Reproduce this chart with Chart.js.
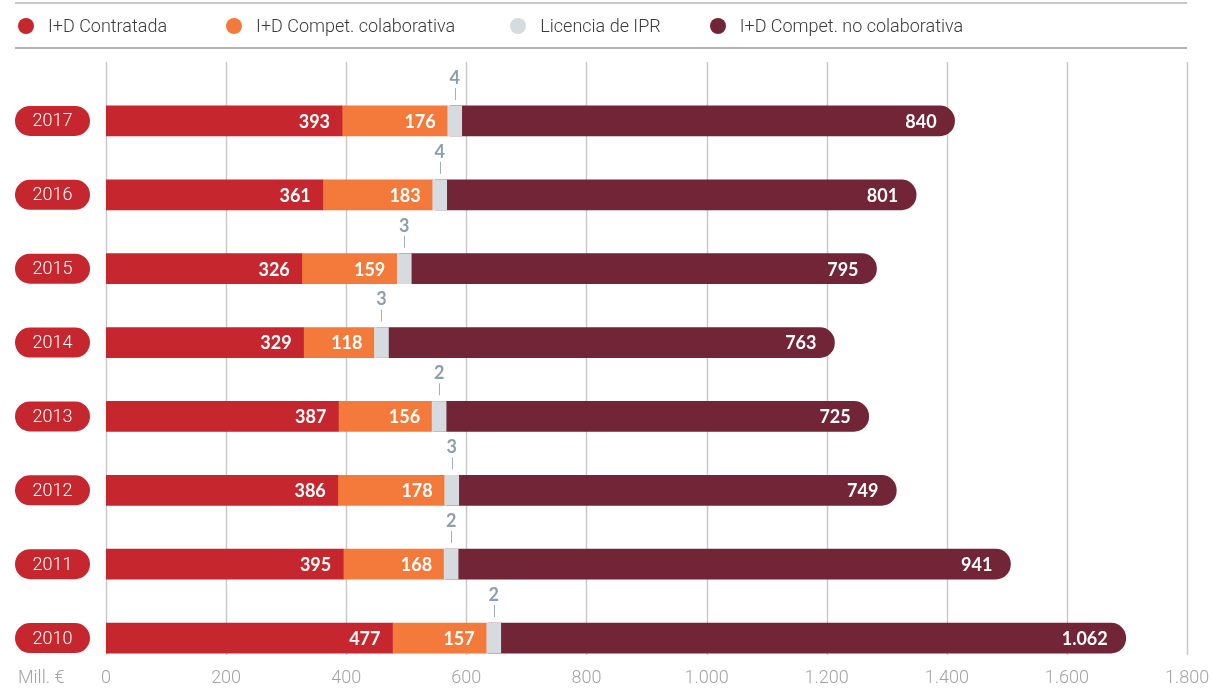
<!DOCTYPE html>
<html>
<head>
<meta charset="utf-8">
<script src="https://cdn.jsdelivr.net/npm/chart.js@4/dist/chart.umd.min.js"></script>
<style>
    body { margin: 0; background: #fff; }
    #wrap { position: relative; width: 1212px; height: 693px; }
    #grafico { position: absolute; left: 0; top: 0; }
    #leyenda {
        position: absolute; left: 15px; top: 2px; width: 1172px; height: 43px;
        border-top: 2px solid #c8c8c8; border-bottom: 2px solid #b4b4b4;
        display: flex; align-items: center;
        font-family: 'Roboto', sans-serif; font-weight: 300; font-size: 18px; color: #3a3a3a;
    }
    #leyenda span.item { display: flex; align-items: center; }
    #leyenda i { display: inline-block; width: 16px; height: 16px; border-radius: 50%; margin: 0 14px 0 3px; }
</style>
</head>
<body>
<div id="wrap">
    <canvas id="grafico" width="1212" height="693"></canvas>
    <div id="leyenda"></div>
</div>
<script>
// Datos (millones de euros)
const anios = ['2017', '2016', '2015', '2014', '2013', '2012', '2011', '2010'];
const contratada = [393, 361, 326, 329, 387, 386, 395, 477];
const colaborativa = [176, 183, 159, 118, 156, 178, 168, 157];
const licenciaIPR = [4, 4, 3, 3, 2, 3, 2, 2];
const noColaborativa = [840, 801, 795, 763, 725, 749, 941, 1062];
const ticksX = [0, 200, 400, 600, 800, 1000, 1200, 1400, 1600, 1800];

const series = ['I+D Contratada', 'I+D Compet. colaborativa', 'Licencia de IPR', 'I+D Compet. no colaborativa'];
const colores = ['#c6262d', '#f37a3a', '#d5dbde', '#722537'];

const fuenteFina = "300 18px 'Roboto', sans-serif";
const fuenteNum = "bold 18px 'Lato', 'Open Sans', sans-serif";

// Formato con punto de miles
function formato(n) {
    return String(n).replace(/\B(?=(\d{3})+(?!\d))/g, '.');
}

// Licencia IPR como barra flotante encima (para que se vea aunque sea pequeña)
const iprFlotante = licenciaIPR.map((v, i) => {
    const ini = contratada[i] + colaborativa[i];
    return [ini, ini + v];
});

// Leyenda en HTML
const leyenda = document.getElementById('leyenda');
series.forEach((s, i) => {
    const item = document.createElement('span');
    item.className = 'item';
    item.style.marginRight = ['56px', '52px', '46px', '0'][i];
    item.innerHTML = `<i style="background:${colores[i]}"></i>${s}`;
    leyenda.appendChild(item);
});

// Plugin: rejilla, etiquetas de años y eje
const decoracion = {
    id: 'decoracion',
    beforeDatasetsDraw(chart) {
        const ctx = chart.ctx;
        const xs = chart.scales.x;
        const ys = chart.scales.y;
        const area = chart.chartArea;
        ctx.save();
        // rejilla vertical
        ctx.strokeStyle = '#c9c9c9';
        ctx.lineWidth = 1.5;
        ticksX.forEach(t => {
            const x = Math.round(xs.getPixelForValue(t)) + 0.5;
            ctx.beginPath();
            ctx.moveTo(x, area.top - 22);
            ctx.lineTo(x, area.bottom - 20);
            ctx.stroke();
        });
        // etiquetas del eje x
        ctx.fillStyle = '#a3a3a3';
        ctx.font = fuenteFina;
        ctx.textAlign = 'center';
        ctx.textBaseline = 'middle';
        ticksX.forEach(t => {
            ctx.fillText(formato(t), xs.getPixelForValue(t), area.bottom + 3);
        });
        ctx.textAlign = 'left';
        ctx.fillText('Mill. €', 18, area.bottom + 3);
        // pastillas de años
        anios.forEach((a, i) => {
            const y = ys.getPixelForValue(i);
            ctx.fillStyle = colores[0];
            ctx.beginPath();
            ctx.roundRect(15, y - 15, 75, 30, 15);
            ctx.fill();
            ctx.fillStyle = '#fff';
            ctx.textAlign = 'center';
            ctx.font = fuenteFina;
            ctx.fillText(a, 52.5, y + 1);
        });
        ctx.restore();
    },
    afterDatasetsDraw(chart) {
        const ctx = chart.ctx;
        ctx.save();
        ctx.font = fuenteNum;
        ctx.textBaseline = 'middle';
        [1, 2, 4].forEach(d => {
            const meta = chart.getDatasetMeta(d);
            const valores = chart.data.datasets[d].data;
            meta.data.forEach((bar, i) => {
                ctx.fillStyle = '#fff';
                ctx.textAlign = 'right';
                ctx.fillText(formato(valores[i]), bar.x - (d === 4 ? 18 : 12), bar.y + 1);
            });
        });
        // etiquetas de licencia IPR sobre la barra
        const meta = chart.getDatasetMeta(0);
        meta.data.forEach((bar, i) => {
            const cx = (bar.x + bar.base) / 2;
            ctx.strokeStyle = '#9fb0bb';
            ctx.lineWidth = 1;
            ctx.beginPath();
            ctx.moveTo(Math.round(cx) + 0.5, bar.y - 33);
            ctx.lineTo(Math.round(cx) + 0.5, bar.y - 21);
            ctx.stroke();
            ctx.fillStyle = '#8c9fab';
            ctx.textAlign = 'center';
            ctx.fillText(licenciaIPR[i], cx, bar.y - 43);
        });
        ctx.restore();
    }
};

new Chart(document.getElementById('grafico'), {
    type: 'bar',
    data: {
        labels: anios,
        datasets: [
            { label: series[2] + ' (visible)', data: iprFlotante, backgroundColor: colores[2],
              stack: 'ipr', grouped: false, minBarLength: 14 },
            { label: series[0], data: contratada, backgroundColor: colores[0], stack: 'a' },
            { label: series[1], data: colaborativa, backgroundColor: colores[1], stack: 'a' },
            { label: series[2], data: licenciaIPR, backgroundColor: colores[2], stack: 'a' },
            { label: series[3], data: noColaborativa, backgroundColor: colores[3], stack: 'a',
              borderRadius: { topLeft: 0, bottomLeft: 0, topRight: 15, bottomRight: 15 } }
        ]
    },
    options: {
        indexAxis: 'y',
        responsive: false,
        animation: false,
        barThickness: 30,
        layout: { padding: { top: 84, bottom: 18, left: 106, right: 25 } },
        scales: {
            x: { stacked: true, min: 0, max: 1800, display: false },
            y: { stacked: true, display: false }
        },
        plugins: {
            legend: { display: false },
            tooltip: { enabled: false }
        }
    },
    plugins: [decoracion]
});
</script>
</body>
</html>
